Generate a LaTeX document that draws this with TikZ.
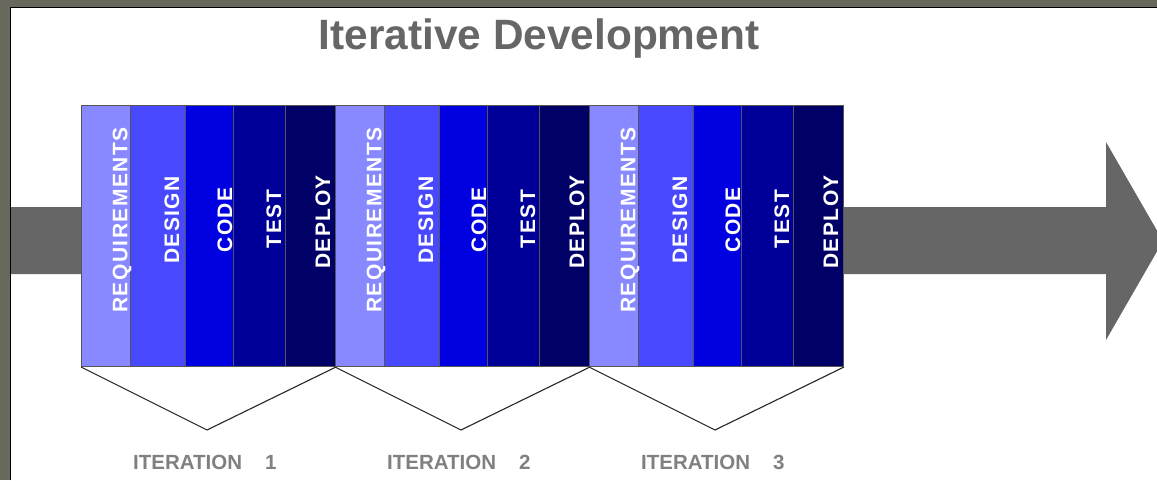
\documentclass[tikz,border=0pt]{standalone}
\usepackage{fontspec}
\setmainfont{Liberation Sans}
\definecolor{framec}{RGB}{104,104,92}
\definecolor{reqc}{RGB}{136,136,255}
\definecolor{desc}{RGB}{72,72,255}
\definecolor{codc}{RGB}{0,0,224}
\definecolor{tstc}{RGB}{0,0,152}
\definecolor{depc}{RGB}{0,0,102}
\definecolor{arrowc}{RGB}{102,102,102}
\definecolor{titlec}{RGB}{102,102,102}
\definecolor{iterc}{RGB}{128,128,128}
\definecolor{edgec}{RGB}{85,85,85}
\begin{document}
\begin{tikzpicture}[x=1pt,y=-1pt,
  phase/.style={draw=edgec, line width=1pt, minimum height=261pt, inner sep=0pt, anchor=north west},
  plabel/.style={text=white, font=\fontsize{21}{21}\selectfont\bfseries\addfontfeature{LetterSpace=7}, rotate=90, inner sep=0pt},
  iterlabel/.style={text=iterc, font=\fontsize{20.5}{20.5}\selectfont\bfseries, inner sep=0pt, anchor=base west},
  chevron/.style={draw=black!85, line width=1.1pt, line join=miter}]
\useasboundingbox (0,0) rectangle (1157,480);
\clip (0,0) rectangle (1157,480);
% frame
\fill[framec] (0,0) rectangle (1157,480);
\fill[white] (11,8) rectangle (1157,480);
\draw[black, line width=1.5pt] (10.5,480) -- (10.5,7.5) -- (1157,7.5);
% title
\node[text=titlec, font=\fontsize{42.4}{42.4}\selectfont\bfseries, anchor=base, inner sep=0pt] (title) at (539,49) {Iterative Development};
% big arrow
\fill[arrowc] (11,207) -- (1106,207) -- (1106,142) -- (1163,241) -- (1106,340) -- (1106,274) -- (11,274) -- cycle;
% iterations
\foreach \k/\s in {1/81,2/335,3/589} {
  \node[phase, fill=reqc, minimum width=49pt] (r\k) at (\s,105) {};
  \node[phase, fill=desc, minimum width=55pt] (d\k) at (\s+49,105) {};
  \node[phase, fill=codc, minimum width=48pt] (c\k) at (\s+104,105) {};
  \node[phase, fill=tstc, minimum width=52pt] (t\k) at (\s+152,105) {};
  \node[phase, fill=depc, minimum width=50pt] (p\k) at (\s+204,105) {};
  \node[plabel] (lr\k) at (\s+41,220) {REQUIREMENTS};
  \node[plabel] (ld\k) at (\s+91,220) {DESIGN};
  \node[plabel] (lc\k) at (\s+144,220) {CODE};
  \node[plabel] (lt\k) at (\s+193,219) {TEST};
  \node[plabel] (lp\k) at (\s+242,222) {DEPLOY};
  \coordinate (v\k) at (\s+126,430);
  \draw[chevron] (r\k.south west) -- (v\k) -- (p\k.south east);
  \node[iterlabel] (it\k) at (\s+52,469) {ITERATION\hspace{23pt}\k};
}
\end{tikzpicture}
\end{document}
